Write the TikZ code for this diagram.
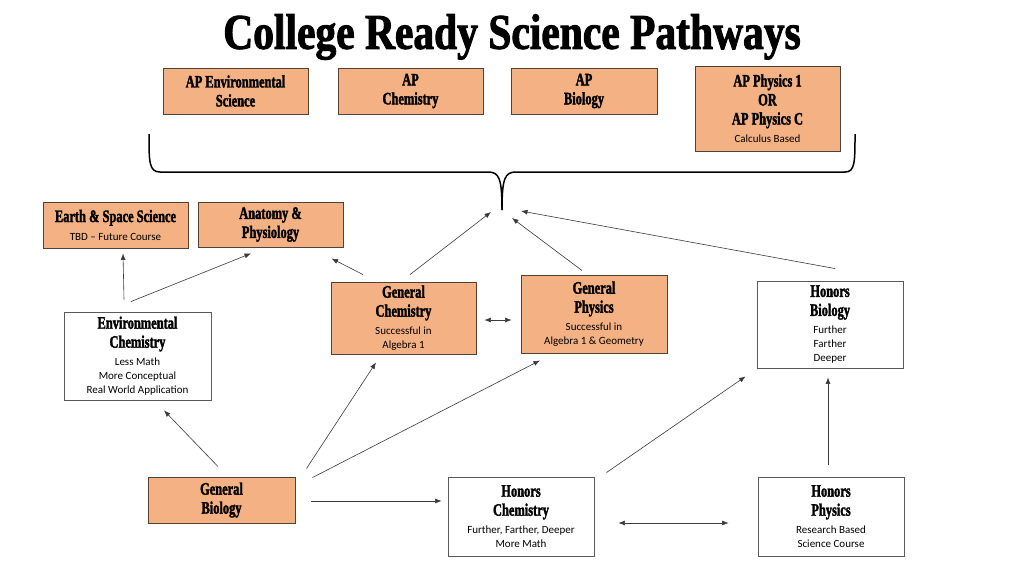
\documentclass[tikz,border=0pt]{standalone}
\usepackage{fontspec}
\usetikzlibrary{arrows.meta,calc}
\newfontfamily\hdfont{Liberation Serif}[FakeStretch=0.71,BoldFeatures={FakeBold=1.8}]
\newfontfamily\ttlfont{Liberation Serif}[FakeStretch=0.83,BoldFeatures={FakeBold=1.8}]
\newfontfamily\smfont{Carlito}
\definecolor{boxorange}{HTML}{F4B183}
\definecolor{boxline}{HTML}{4F4239}
\definecolor{wline}{HTML}{5A5A5A}
\definecolor{arrgray}{HTML}{3A3A3A}
\newcommand{\hd}{\hdfont\bfseries\fontsize{17.5}{19}\selectfont}
\newcommand{\sm}{\smfont\mdseries\fontsize{11}{14}\selectfont}
% line breaks: heading->heading 19pt, heading->small 18pt, small->small 14pt
\newcommand{\nh}{\cr}
\newcommand{\ns}{\cr\noalign{\vskip-1pt}}
\newcommand{\nn}{\cr\noalign{\vskip-5pt}}
\newcommand{\stack}[1]{\vbox{\baselineskip=19pt\lineskiplimit=-100pt\lineskip=0pt\halign{\hfil\hd##\hfil\cr#1\crcr}}}
\begin{document}
\begin{tikzpicture}[x=1pt,y=-1pt,
  obox/.style={draw=boxline,line width=0.9pt,fill=boxorange,inner sep=0pt},
  wbox/.style={draw=wline,line width=0.9pt,fill=white,inner sep=0pt},
  arr/.style={draw=arrgray,line width=0.6pt,-{Latex[length=6.5pt,width=5pt]}},
  darr/.style={draw=arrgray,line width=0.6pt,{Latex[length=6.5pt,width=5pt]}-{Latex[length=6.5pt,width=5pt]}}]
\useasboundingbox (0,0) rectangle (1024,576);
\fill[white] (0,0) rectangle (1024,576);

\node[font=\ttlfont\bfseries\fontsize{50}{56}\selectfont] (title) at (512,37) {College Ready Science Pathways};

\node[obox,minimum width=145pt,minimum height=46pt] (apenv) at (235.5,91) {\stack{AP Environmental\nh Science}};
\node[obox,minimum width=145pt,minimum height=46pt] (apchem) at (410.5,91) {\stack{AP\nh Chemistry}};
\node[obox,minimum width=146pt,minimum height=46pt] (apbio) at (584,91) {\stack{AP\nh Biology}};
\node[obox,minimum width=145pt,minimum height=85pt] (apphys) at (767.5,108.5) {\stack{AP Physics 1\nh OR\nh AP Physics C\ns \sm Calculus Based}};

\node[obox,minimum width=145pt,minimum height=46pt] (earth) at (115.5,225) {\stack{Earth \& Space Science\ns \sm TBD – Future Course}};
\node[obox,minimum width=145pt,minimum height=45pt] (anat) at (270.5,224.5) {\stack{Anatomy \&\nh Physiology}};

\node[wbox,minimum width=147pt,minimum height=88pt] (envchem) at (137.5,356) {\stack{Environmental\nh Chemistry\ns \sm Less Math\nn \sm More Conceptual\nn \sm Real World Application}};
\node[obox,minimum width=145pt,minimum height=72pt] (genchem) at (403.5,318) {\stack{General\nh Chemistry\ns \sm Successful in\nn \sm Algebra 1}};
\node[obox,minimum width=146pt,minimum height=78pt] (genphys) at (594,314) {\stack{General\nh Physics\ns \sm Successful in\nn \sm Algebra 1 \& Geometry}};
\node[wbox,minimum width=146pt,minimum height=87pt] (honbio) at (830,324.5) {\stack{Honors\nh Biology\ns \sm Further\nn \sm Farther\nn \sm Deeper}};

\node[obox,minimum width=147pt,minimum height=46pt] (genbio) at (221.5,500) {\stack{General\nh Biology}};
\node[wbox,minimum width=146pt,minimum height=79pt] (honchem) at (521,516.5) {\stack{Honors\nh Chemistry\ns \sm Further, Farther, Deeper\nn \sm More Math}};
\node[wbox,minimum width=146pt,minimum height=79pt] (honphys) at (831,516.5) {\stack{Honors\nh Physics\ns \sm Research Based\nn \sm Science Course}};

% brace
\coordinate (bracetip) at (502,210);
\draw[black,line width=1.5pt] (149,134) .. controls (149,162) and (149,172) .. (160,172) -- (488,172) .. controls (499,172) and (502,178) .. (bracetip);
\draw[black,line width=1.5pt] (bracetip) .. controls (502,178) and (505,172) .. (516,172) -- (845,172) .. controls (855,172) and (855,162) .. (855,134);

% connectors
\draw[arr] ($(envchem.north)+(-13.5,-12)$) -- ($(earth.south)+(7.5,5)$);
\draw[arr] ($(envchem.north)+(-6.5,-10)$) -- ($(anat.south)+(-19.5,6)$);
\draw[arr] ($(genchem.north)+(-40.5,-7)$) -- ($(anat.south east)+(-12,11)$);
\draw[arr] ($(genchem.north)+(6.5,-7)$) -- ($(bracetip)+(-11,2)$);
\draw[arr] ($(genphys.north)+(-12,-4)$) -- ($(bracetip)+(10,8)$);
\draw[arr] ($(honbio.north)+(5,-12)$) -- ($(bracetip)+(19,1)$);
\draw[darr] ($(genchem.east)+(8,2)$) -- ($(genphys.west)+(-9,6)$);
\draw[arr] ($(genbio.north)+(-3.5,-10)$) -- ($(envchem.south)+(26.5,10)$);
\draw[arr] ($(genbio.north east)+(11,-8)$) -- ($(genchem.south)+(-27.5,8)$);
\draw[arr] ($(genbio.north east)+(17,1)$) -- ($(genphys.south)+(-54,7)$);
\draw[arr] ($(genbio.east)+(16,1)$) -- ($(honchem.west)+(-6,-15.5)$);
\draw[arr] ($(honchem.north east)+(12,-4)$) -- ($(honbio.south west)+(-11,8)$);
\draw[darr] ($(honchem.east)+(24,6.5)$) -- ($(honphys.west)+(-29,6.5)$);
\draw[arr] ($(honphys.north)+(-3,-12)$) -- ($(honbio.south)+(-2,9)$);
\end{tikzpicture}
\end{document}
